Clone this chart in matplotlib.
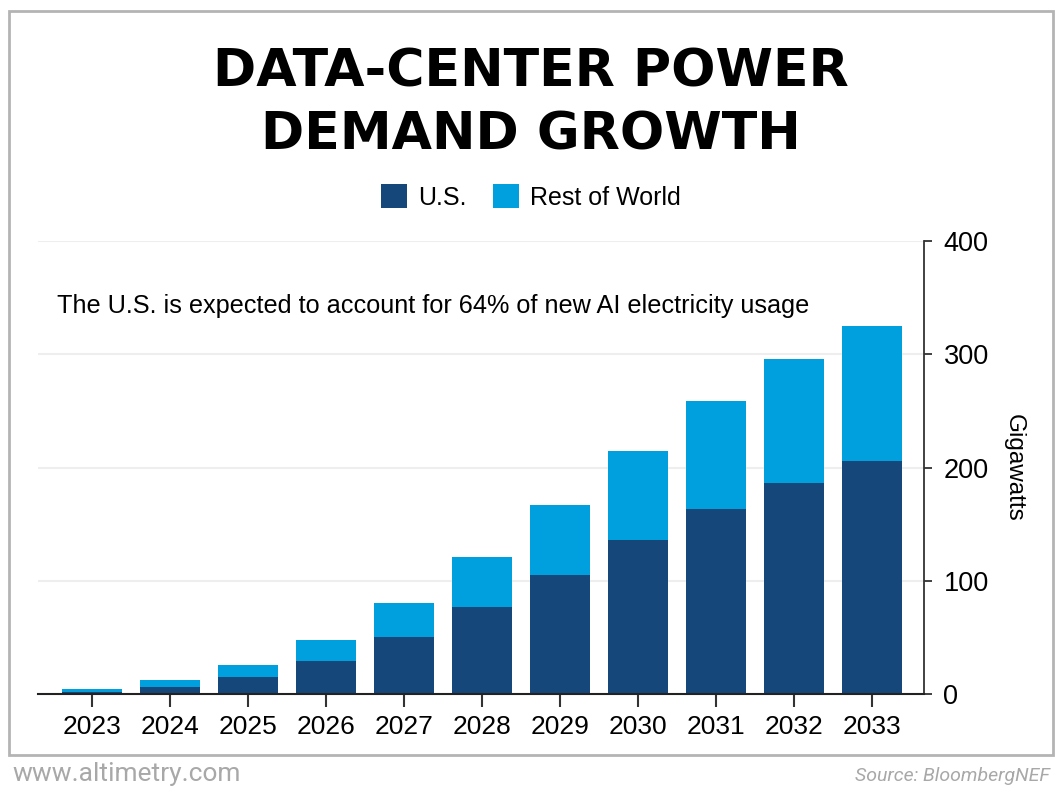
import matplotlib
matplotlib.use("Agg")
import matplotlib.pyplot as plt
from matplotlib.patches import Rectangle
import numpy as np

# values (gigawatts)
years = ["2023", "2024", "2025", "2026", "2027", "2028",
         "2029", "2030", "2031", "2032", "2033"]
us = [2, 6.4, 14.7, 29.4, 50, 76.5, 104.7, 135.7, 163.1, 186.6, 205.5]
total = [4, 12, 25.9, 47.7, 80.6, 120.9, 166.6, 214.9, 258.5, 295.4, 324.8]
rest_of_world = [t - u for t, u in zip(total, us)]
y_ticks = [0, 100, 200, 300, 400]

US_COLOR = "#15477b"
ROW_COLOR = "#00a0de"

plt.rcParams["font.family"] = ["Liberation Sans", "DejaVu Sans"]

fig = plt.figure(figsize=(10.63, 7.93), dpi=100)
W, H = 1063, 793

# grey frame round the chart
fig.patches.append(Rectangle((9 / W, 1 - 755 / H), (1053 - 9) / W, (755 - 11) / H,
                             transform=fig.transFigure, fill=False,
                             edgecolor="#b4b4b4", linewidth=2))

ax = fig.add_axes([38 / W, 1 - 694 / H, (924 - 38) / W, (694 - 241) / H])
x = np.arange(len(years))
ax.bar(x, us, width=0.77, color=US_COLOR, zorder=3, label="U.S.")
ax.bar(x, rest_of_world, width=0.77, bottom=us, color=ROW_COLOR, zorder=3,
       label="Rest of World")

ax.set_xlim(-0.69, 10.67)
ax.set_ylim(0, 400)
ax.set_xticks(x)
ax.set_xticklabels(years)
ax.set_yticks(y_ticks)
ax.yaxis.tick_right()
ax.yaxis.set_label_position("right")
ax.set_ylabel("Gigawatts", rotation=-90, fontsize=17.5, labelpad=26)

for t in y_ticks[1:]:
    ax.axhline(t, color="#eeeeee", linewidth=1.5, zorder=1)

for side in ["left", "top"]:
    ax.spines[side].set_visible(False)
ax.spines["bottom"].set_color("#222222")
ax.spines["bottom"].set_linewidth(1.5)
ax.spines["bottom"].set_zorder(4)
ax.spines["right"].set_color("#333333")
ax.spines["right"].set_linewidth(1.3)
ax.tick_params(axis="x", length=9, width=1.5, color="#333333",
               labelsize=19, pad=6)
ax.tick_params(axis="y", length=6, width=1.3, color="#333333",
               labelsize=19.5, pad=8)

ax.text(57 / W, 1 - 306 / H, "The U.S. is expected to account for 64% of new AI electricity usage",
        transform=fig.transFigure, fontsize=18.2, va="center", ha="left")

# title
fig.text(531 / W, 1 - 104 / H, "DATA-CENTER POWER\nDEMAND GROWTH",
         ha="center", va="center", fontsize=37.5, fontweight="heavy",
         linespacing=1.32, family=["DejaVu Sans"])

leg = fig.legend(loc="center", bbox_to_anchor=(531 / W, 1 - 197 / H), ncol=2,
                 frameon=False, fontsize=18, handlelength=1.05, handleheight=1.05,
                 handletextpad=0.45, columnspacing=1.05)

fig.text(12 / W, 1 - 774 / H, "www.altimetry.com", fontsize=19,
         color="#a8a8a8", va="center", ha="left", family=["Roboto", "DejaVu Sans"])
fig.text(1050 / W, 1 - 776 / H, "Source: BloombergNEF", fontsize=14,
         color="#a8a8a8", va="center", ha="right", style="italic",
         family=["Roboto", "DejaVu Sans"])

fig.savefig("out.png", dpi=100)
plt.close(fig)
